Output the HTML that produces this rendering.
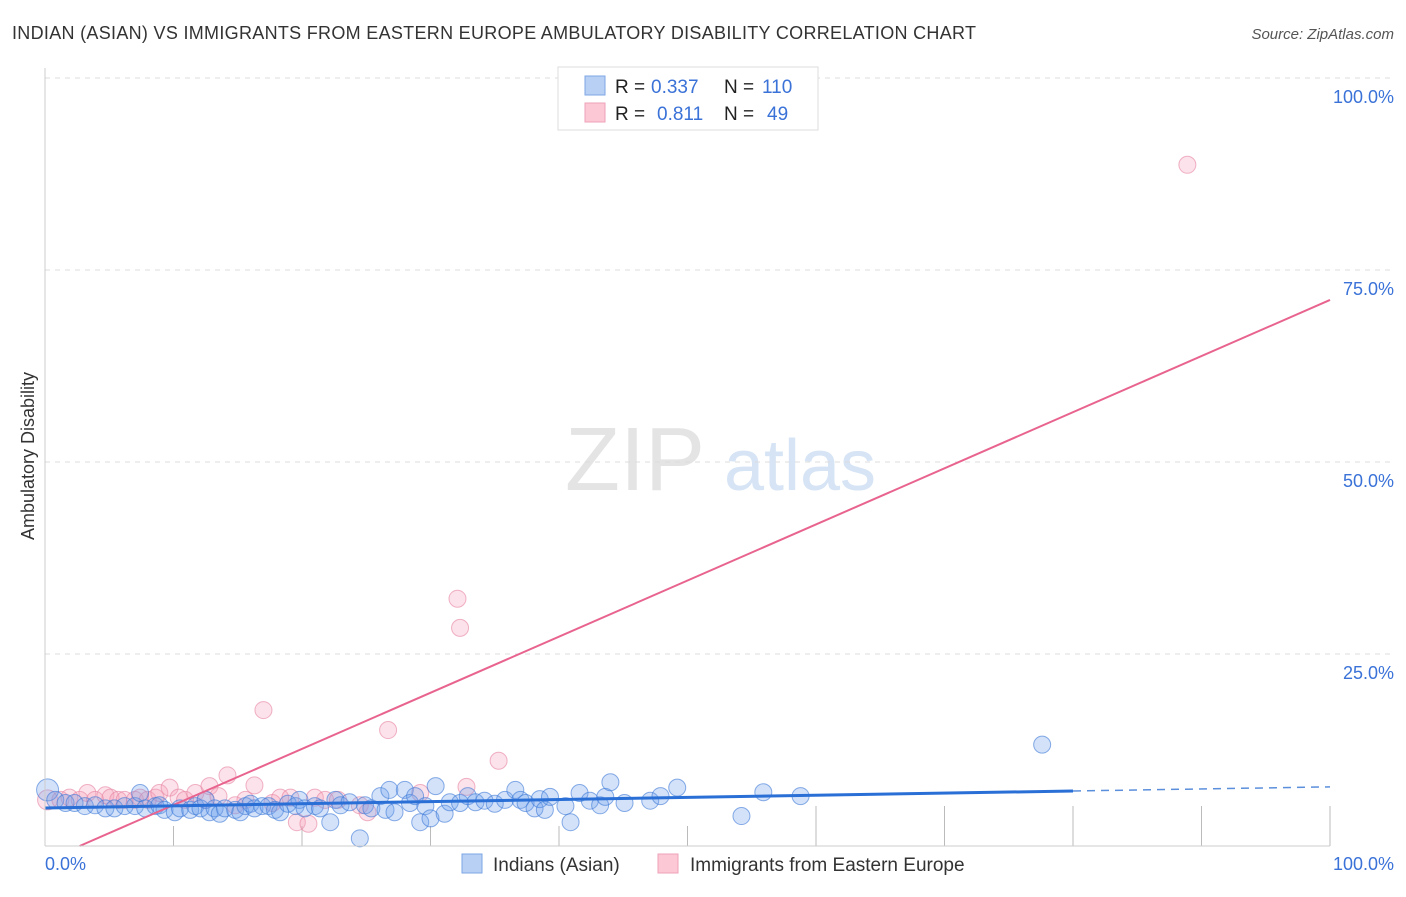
<!DOCTYPE html>
<html><head><meta charset="utf-8"><style>
body{margin:0;background:#fff;font-family:"Liberation Sans",sans-serif;}
svg text{font-family:"Liberation Sans",sans-serif;}
</style></head><body>
<svg id="chart" width="1406" height="892" viewBox="0 0 1406 892" xmlns="http://www.w3.org/2000/svg">
<text x="12" y="39" font-size="18" fill="#333" textLength="964">INDIAN (ASIAN) VS IMMIGRANTS FROM EASTERN EUROPE AMBULATORY DISABILITY CORRELATION CHART</text>
<text x="1394" y="39" font-size="15" fill="#555" font-style="italic" text-anchor="end">Source: ZipAtlas.com</text>
<text x="34" y="456" font-size="18" fill="#333" text-anchor="middle" transform="rotate(-90 34 456)">Ambulatory Disability</text>
<g><text x="635" y="490" font-size="90" fill="#e4e4e4" font-family="Liberation Serif" text-anchor="middle">ZIP</text><text x="800" y="490" font-size="72" fill="#d6e4f5" text-anchor="middle">atlas</text></g>
<g id="grid"></g><g id="ticks"></g><g id="pink"></g><g id="blue"></g><g id="lines"></g>
<line x1="45" y1="68" x2="45" y2="846" stroke="#ccc"/>
<line x1="45" y1="846" x2="1330" y2="846" stroke="#ccc"/>
<text x="45" y="870" font-size="18" fill="#3a72d8">0.0%</text>
<text x="1394" y="870" font-size="18" fill="#3a72d8" text-anchor="end">100.0%</text>
<g>
<rect x="558" y="67" width="260" height="63" fill="#fff" stroke="#ddd"/>
<rect x="585" y="76" width="20" height="19" fill="#b8d0f4" stroke="#7ea6e6"/>
<rect x="585" y="103" width="20" height="19" fill="#fcc8d6" stroke="#eea2b8"/>
<text x="615" y="93" font-size="19" fill="#222">R =</text><text x="651" y="93" font-size="19" fill="#3a72d8">0.337</text>
<text x="724" y="93" font-size="19" fill="#222">N =</text><text x="762" y="93" font-size="19" fill="#3a72d8">110</text>
<text x="615" y="120" font-size="19" fill="#222">R =</text><text x="657" y="120" font-size="19" fill="#3a72d8">0.811</text>
<text x="724" y="120" font-size="19" fill="#222">N =</text><text x="767" y="120" font-size="19" fill="#3a72d8">49</text>
</g>
<g>
<rect x="462" y="854" width="20" height="19" fill="#b8d0f4" stroke="#7ea6e6"/>
<text x="493" y="871" font-size="19" fill="#333">Indians (Asian)</text>
<rect x="658" y="854" width="20" height="19" fill="#fcc8d6" stroke="#eea2b8"/>
<text x="690" y="871" font-size="19" fill="#333">Immigrants from Eastern Europe</text>
</g>
</svg>
<script>
const yTicks=[25,50,75,100];
const yTickLabels=["25.0%","50.0%","75.0%","100.0%"];
const xTicks=[10,20,30,40,50,60,70,80,90,100];
const blueX=[0.2,0.8,1.6,2.3,3.1,3.9,4.7,5.4,6.2,7.0,7.4,7.8,8.6,8.9,9.3,10.1,10.5,11.3,11.7,12.1,12.5,12.8,13.2,13.6,14.0,14.8,15.2,15.6,16.0,16.3,16.9,17.4,17.9,18.3,18.9,19.5,19.8,20.2,21.0,21.4,22.2,22.6,23.0,23.7,24.5,24.9,25.4,26.1,26.5,26.8,27.2,28.0,28.4,28.8,29.2,29.6,30.0,30.4,31.1,31.5,32.3,32.9,33.5,34.2,35.0,35.8,36.6,37.0,37.4,38.1,38.5,38.9,39.3,40.5,40.9,41.6,42.4,43.2,43.6,44.0,45.1,47.1,47.9,49.2,54.2,55.9,58.8,77.6];
const blueY=[7.3,6.0,5.6,5.6,5.2,5.3,4.9,4.9,5.2,5.2,6.9,4.9,5.2,5.3,4.7,4.4,4.9,4.7,5.2,4.9,6.0,4.4,4.9,4.2,4.9,4.7,4.4,5.2,5.5,4.9,5.2,5.2,4.7,4.4,5.5,5.2,6.0,4.9,5.2,4.9,3.1,6.0,5.3,5.7,1.0,5.3,4.9,6.5,4.7,7.3,4.4,7.3,5.6,6.5,3.1,5.2,3.6,7.8,4.2,5.7,5.6,6.5,5.7,5.9,5.5,6.0,7.3,6.0,5.6,4.9,6.1,4.7,6.4,5.2,3.1,6.9,5.9,5.3,6.4,8.3,5.6,5.9,6.5,7.6,3.9,7.0,6.5,13.2];
const pinkX=[0.2,1.2,1.9,2.7,3.3,3.9,4.7,5.1,5.7,6.2,7.0,7.4,8.0,8.6,8.9,9.7,10.4,10.9,11.7,12.5,12.8,13.5,14.2,14.8,15.6,16.3,17.0,17.7,18.3,19.1,19.6,20.5,21.0,21.8,22.8,24.5,25.1,26.7,29.2,32.1,32.3,32.8,35.3,88.9];
const pinkY=[6.0,6.0,6.3,6.0,6.9,6.0,6.6,6.3,6.0,6.0,6.0,6.3,6.0,6.3,6.9,7.6,6.3,6.0,6.9,6.0,7.8,6.5,9.2,5.3,6.0,7.9,17.7,5.6,6.3,6.3,3.1,2.9,6.3,6.0,6.0,5.3,4.4,15.1,6.9,32.2,28.4,7.7,11.1,88.7];
const blueFit=[4.95,7.16,7.7];
const pinkFit=[-1.97,71.1];
const X0=45,X1=1330,Y0=846,Y100=78;
const sx=v=>X0+(X1-X0)*v/100, sy=v=>Y0-(Y0-Y100)*v/100;
const NS="http://www.w3.org/2000/svg";
function mk(tag,attrs,parent){const e=document.createElementNS(NS,tag);for(const k in attrs)e.setAttribute(k,attrs[k]);document.getElementById(parent).appendChild(e);return e;}
yTicks.forEach((t,i)=>{
  const g=mk('line',{x1:45,x2:1394,y1:sy(t),y2:sy(t),stroke:'#ddd','stroke-dasharray':'5,5'},'grid');
  
  
  const tx=mk('text',{x:1394,y:sy(t)+25,'font-size':18,fill:'#3a72d8','text-anchor':'end'},'grid');
  tx.textContent=yTickLabels[i];
  
  
});
xTicks.forEach(t=>{
  const l=mk('line',{x1:sx(t),x2:sx(t),y1:t>=60?806:826,y2:846,stroke:'#bbb'},'ticks');
  
  
});
pinkX.forEach((x,i)=>{
  const c=mk('circle',{cx:sx(x),cy:sy(pinkY[i]),r:i===0?10:8.5,fill:'rgba(245,160,185,0.3)',stroke:'rgba(230,130,160,0.6)'},'pink');
  
  
});
blueX.forEach((x,i)=>{
  const c=mk('circle',{cx:sx(x),cy:sy(blueY[i]),r:i===0?11:8.5,fill:'rgba(110,160,235,0.3)',stroke:'rgba(60,120,215,0.6)'},'blue');
  
  
});
const pl=mk('line',{x1:sx(-pinkFit[0]/((pinkFit[1]-pinkFit[0])/100)),y1:sy(0),x2:sx(100),y2:sy(pinkFit[1]),stroke:'#e8648f','stroke-width':2},'lines');


const bl=mk('line',{x1:sx(0),y1:sy(blueFit[0]),x2:sx(80),y2:sy(blueFit[1]),stroke:'#2a6fd6','stroke-width':3},'lines');


const bd=mk('line',{x1:sx(80),y1:sy(blueFit[1]),x2:sx(100),y2:sy(blueFit[2]),stroke:'#5b8fdc','stroke-width':1.5,'stroke-dasharray':'8,6'},'lines');


</script>
</body></html>
